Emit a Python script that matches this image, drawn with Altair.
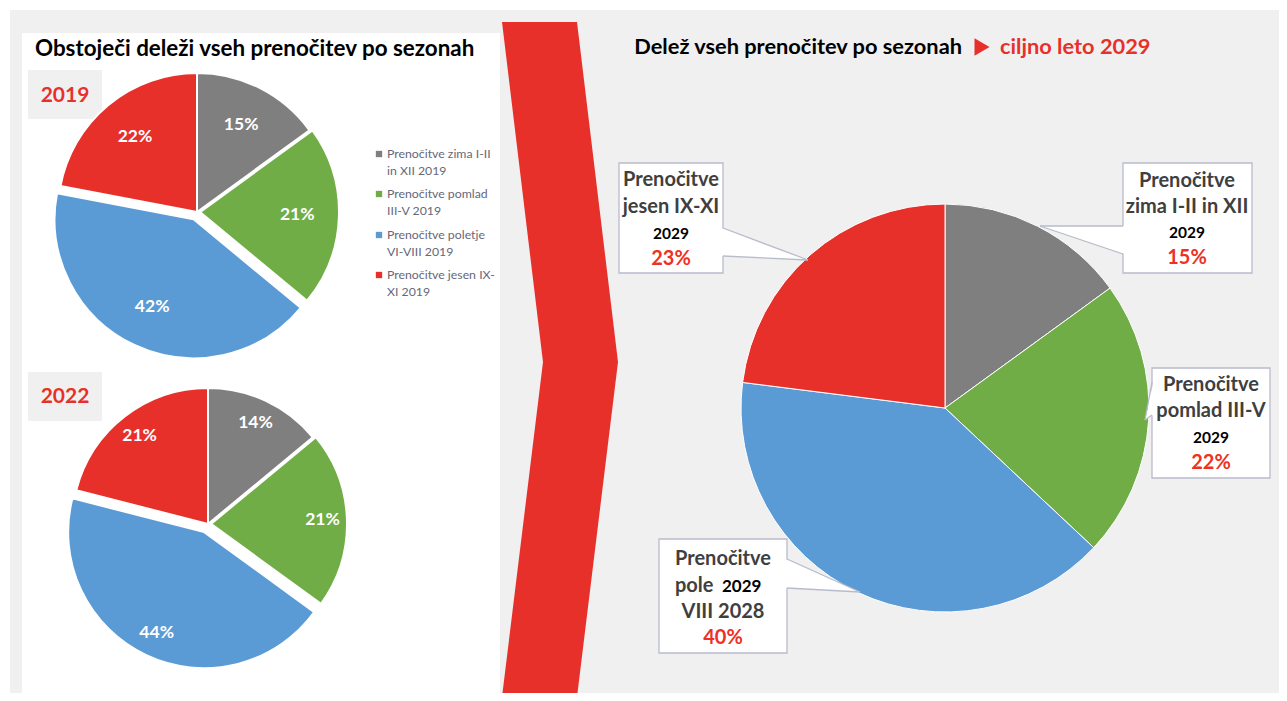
import altair as alt
import pandas as pd
import numpy as np

# ---------------- data ----------------
season_colors = ["#7F7F7F", "#70AD47", "#5B9BD5", "#E8302A"]
shares_2019 = [15, 21, 42, 22]
shares_2022 = [14, 21, 44, 21]
shares_2029 = [15, 22, 40, 23]
legend_lines = [
    ["Prenočitve zima I-II", "in XII 2019"],
    ["Prenočitve pomlad", "III-V 2019"],
    ["Prenočitve poletje", "VI-VIII 2019"],
    ["Prenočitve jesen IX-", "XI 2019"],
]
callout_titles = [
    ["Prenočitve", "zima I-II in XII"],
    ["Prenočitve", "pomlad III-V"],
    ["Prenočitve", "VIII 2028"],
    ["Prenočitve", "jesen IX-XI"],
]
target_year = "2029"
left_title = "Obstoječi deleži vseh prenočitev po sezonah"
right_title_a = "Delež vseh prenočitev po sezonah"
right_title_b = "ciljno leto 2029"

FONT = "Lato"
RED = "#E8302A"
TXT_RED = "#EE3124"
DARK = "#3F3F3F"
BOXLINE = "#B8BBCB"

W, H = 1271, 685
XS = alt.Scale(domain=[8, 8 + W], range=[0, W], nice=False, zero=False)
YS = alt.Scale(domain=[8, 8 + H], range=[0, H], nice=False, zero=False)
TS = alt.Scale(domain=[0, 100], range=[0, 2 * np.pi])


def X(f):
    return alt.X(f"{f}:Q", scale=XS, axis=None)


def Y(f):
    return alt.Y(f"{f}:Q", scale=YS, axis=None)


def pie_df(shares, cx, cy, explode, label_frac, r):
    rows = []
    cum = 0
    for i, v in enumerate(shares):
        t0, t1 = cum, cum + v
        cum = t1
        mid = (t0 + t1) / 200 * 2 * np.pi
        ox = cx + explode[i] * np.sin(mid)
        oy = cy - explode[i] * np.cos(mid)
        rows.append(dict(t0=t0, t1=t1, cx=ox, cy=oy,
                         lx=ox + label_frac * r * np.sin(mid),
                         ly=oy - label_frac * r * np.cos(mid),
                         text=f"{v}%", color=season_colors[i]))
    return pd.DataFrame(rows)


def arc_layer(df, r, sw):
    return alt.Chart(df).mark_arc(radius=r, stroke="white", strokeWidth=sw).encode(
        x=X("cx"), y=Y("cy"),
        theta=alt.Theta("t0:Q", scale=TS, stack=None), theta2="t1:Q",
        color=alt.Color("color:N", scale=None, legend=None))


def text_layer(df, xf="x", yf="y", **mk):
    return alt.Chart(df).mark_text(font=FONT, baseline="middle", **mk).encode(
        x=X(xf), y=Y(yf), text="text:N")


layers = []

# backgrounds
bg = pd.DataFrame([
    dict(x0=10, x1=1287, y0=10, y1=697, fill="#F0F0F0"),
    dict(x0=22, x1=500, y0=33, y1=695, fill="#FFFFFF"),
    dict(x0=28, x1=102, y0=70, y1=119, fill="#F0F0F0"),
    dict(x0=28, x1=102, y0=372, y1=421, fill="#F0F0F0"),
])
layers.append(alt.Chart(bg).mark_rect().encode(
    x=X("x0"), x2="x1", y=Y("y0"), y2="y1", color=alt.Color("fill:N", scale=None)))

# chevron arrow
chev = pd.DataFrame(dict(y=[22, 362, 697], xl=[502, 543, 502], xr=[577, 618, 577]))
layers.append(alt.Chart(chev).mark_area(orient="horizontal", color=RED).encode(
    y=Y("y"), x=X("xl"), x2="xr"))

# pies
p19 = pie_df(shares_2019, 197, 212, [0, 3, 8, 0], 0.7, 139)
p22 = pie_df(shares_2022, 208, 524, [0, 3, 9, 0], 0.82, 136)
p29 = pie_df(shares_2029, 945, 408, [0, 0, 0, 0], 0.7, 204)
layers.append(arc_layer(p19, 139, 2))
layers.append(arc_layer(p22, 136, 2))
layers.append(arc_layer(p29, 204, 1))
layers.append(text_layer(p19, "lx", "ly", fontSize=17.5, fontWeight="bold", color="white", align="center"))
layers.append(text_layer(p22, "lx", "ly", fontSize=17.5, fontWeight="bold", color="white", align="center"))

# year tags
yt = pd.DataFrame(dict(x=[65, 65], y=[96, 397], text=["2019", "2022"]))
layers.append(text_layer(yt, fontSize=21, fontWeight="bold", color=RED, align="center"))

# titles
layers.append(text_layer(pd.DataFrame(dict(x=[35], y=[49], text=[left_title])),
                         fontSize=22.4, fontWeight="bold", color="black", align="left"))
layers.append(text_layer(pd.DataFrame(dict(x=[962], y=[47], text=[right_title_a])),
                         fontSize=21.8, fontWeight="bold", color="black", align="right"))
layers.append(text_layer(pd.DataFrame(dict(x=[1000], y=[47], text=[right_title_b])),
                         fontSize=21.8, fontWeight="bold", color=RED, align="left"))
layers.append(alt.Chart(pd.DataFrame(dict(x=[982], y=[47]))).mark_point(
    shape="triangle-right", size=300, filled=True, color=RED, opacity=1).encode(x=X("x"), y=Y("y")))

# legend
leg_sq = pd.DataFrame(dict(x=[379] * 4, y=[154, 194, 235, 275], color=season_colors))
layers.append(alt.Chart(leg_sq).mark_square(size=40, opacity=1).encode(
    x=X("x"), y=Y("y"), color=alt.Color("color:N", scale=None)))
leg_rows = []
for i, (a, b) in enumerate(legend_lines):
    base = [154, 194, 235, 275][i]
    leg_rows.append(dict(x=387, y=base, text=a))
    leg_rows.append(dict(x=387, y=base + 17, text=b))
layers.append(text_layer(pd.DataFrame(leg_rows), fontSize=12.3, color="#666879", align="left"))

# callouts: grey, green, blue, red
boxes = pd.DataFrame([
    dict(x0=1123, x1=1252, y0=163, y1=273),
    dict(x0=1152, x1=1270, y0=368, y1=478),
    dict(x0=659, x1=787, y0=539, y1=653),
    dict(x0=619, x1=723, y0=163, y1=273),
])
layers.append(alt.Chart(boxes).mark_rect(fill="white", stroke=BOXLINE, strokeWidth=1.3).encode(
    x=X("x0"), x2="x1", y=Y("y0"), y2="y1"))

pointers = [  # base x, base y0, base y1, tip x, tip y, inward shift
    (1123, 226, 254, 1040, 226, 1.5),
    (1152, 382, 415, 1145, 420, 1.5),
    (787, 559, 588, 860, 592, -1.5),
    (723, 228, 256, 808, 260, -1.5),
]
wedge_rows, rule_rows = [], []
for g, (bx, by0, by1, tx, ty, sh) in enumerate(pointers):
    wedge_rows.append(dict(g=g, x=bx + sh, y=by0, y2=by1))
    wedge_rows.append(dict(g=g, x=tx, y=ty, y2=ty))
    rule_rows.append(dict(x=bx, y=by0, x2=tx, y2=ty))
    rule_rows.append(dict(x=bx, y=by1, x2=tx, y2=ty))
layers.append(alt.Chart(pd.DataFrame(wedge_rows)).mark_area(orient="vertical", color="white", opacity=1).encode(
    x=X("x"), y=Y("y"), y2="y2", detail="g:N"))
layers.append(alt.Chart(pd.DataFrame(rule_rows)).mark_rule(color=BOXLINE, strokeWidth=1.3).encode(
    x=X("x"), y=Y("y"), x2="x2", y2="y2"))

centers = [(1187, [181, 207, 233, 258]), (1211, [385, 411, 438, 463]),
           (723, [559, 612, 612, 638]), (671, [180, 207, 234, 259])]
t_rows, y_rows, p_rows = [], [], []
for i, (cx, ys) in enumerate(centers):
    t_rows.append(dict(x=cx, y=ys[0], text=callout_titles[i][0]))
    t_rows.append(dict(x=cx, y=ys[1], text=callout_titles[i][1]))
    if i != 2:
        y_rows.append(dict(x=cx, y=ys[2], text=target_year))
    p_rows.append(dict(x=cx, y=ys[3], text=f"{shares_2029[i]}%"))
layers.append(text_layer(pd.DataFrame(t_rows), fontSize=20, fontWeight="bold", color=DARK, align="center"))
layers.append(text_layer(pd.DataFrame(y_rows), fontSize=15.5, fontWeight="bold", color="black", align="center"))
layers.append(text_layer(pd.DataFrame(p_rows), fontSize=20, fontWeight="bold", color=TXT_RED, align="center"))
# the odd "pole  2029" line of the summer callout
layers.append(text_layer(pd.DataFrame(dict(x=[675], y=[586], text=["pole"])),
                         fontSize=20, fontWeight="bold", color=DARK, align="left"))
layers.append(text_layer(pd.DataFrame(dict(x=[722], y=[587], text=[target_year])),
                         fontSize=17, fontWeight="bold", color="black", align="left"))

chart = alt.layer(*layers).properties(
    width=W, height=H, padding=0, autosize=alt.AutoSizeParams(type="none"),
    background="white",
).configure_view(stroke=None, clip=False)

chart.save("out.html", embed_options={"renderer": "svg", "actions": False})
